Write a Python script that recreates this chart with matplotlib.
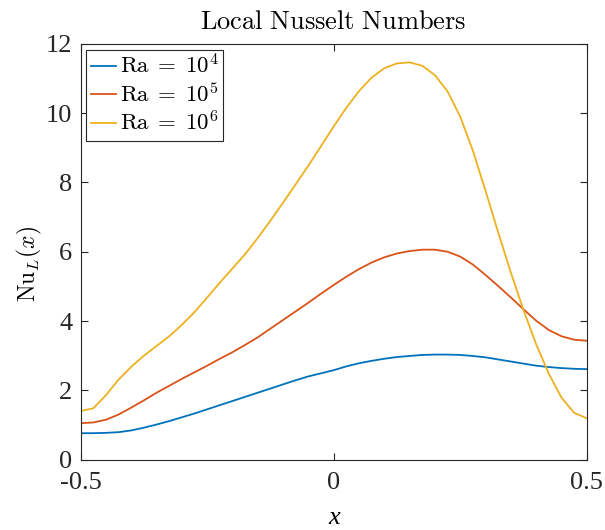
import matplotlib
matplotlib.use("Agg")
import matplotlib.pyplot as plt
from matplotlib import font_manager

# values
x = [-0.5, -0.475, -0.45, -0.425, -0.4, -0.375, -0.35, -0.325, -0.3, -0.275,
     -0.25, -0.225, -0.2, -0.175, -0.15, -0.125, -0.1, -0.075, -0.05, -0.025,
     0.0, 0.025, 0.05, 0.075, 0.1, 0.125, 0.15, 0.175, 0.2, 0.225,
     0.25, 0.275, 0.3, 0.325, 0.35, 0.375, 0.4, 0.425, 0.45, 0.475, 0.5]

nu_ra4 = [0.76, 0.76, 0.77, 0.79, 0.84, 0.92, 1.01, 1.11, 1.22, 1.33,
          1.45, 1.57, 1.69, 1.81, 1.93, 2.05, 2.17, 2.29, 2.40, 2.49,
          2.58, 2.69, 2.78, 2.85, 2.91, 2.96, 2.99, 3.02, 3.03, 3.03,
          3.02, 2.99, 2.95, 2.89, 2.83, 2.77, 2.71, 2.67, 2.64, 2.62, 2.61]

nu_ra5 = [1.05, 1.07, 1.15, 1.30, 1.50, 1.71, 1.93, 2.13, 2.33, 2.52,
          2.71, 2.91, 3.10, 3.31, 3.53, 3.78, 4.03, 4.28, 4.53, 4.79,
          5.04, 5.28, 5.50, 5.69, 5.84, 5.95, 6.02, 6.06, 6.06, 6.00,
          5.86, 5.63, 5.33, 5.01, 4.68, 4.34, 4.01, 3.74, 3.56, 3.46, 3.43]

nu_ra6 = [1.40, 1.48, 1.86, 2.31, 2.68, 3.00, 3.28, 3.56, 3.89, 4.26,
          4.68, 5.11, 5.52, 5.93, 6.40, 6.90, 7.42, 7.95, 8.49, 9.05,
          9.62, 10.16, 10.64, 11.03, 11.30, 11.44, 11.47, 11.37, 11.10, 10.63,
          9.90, 8.92, 7.76, 6.56, 5.40, 4.32, 3.33, 2.48, 1.79, 1.35, 1.19]

labels = [r"$\mathrm{Ra}\;=\;10^4$", r"$\mathrm{Ra}\;=\;10^5$", r"$\mathrm{Ra}\;=\;10^6$"]
colors = ["#0072BD", "#D95319", "#EDB120"]

# make sure the Times-like face is really there
font_manager.findfont("Liberation Serif", fallback_to_default=False)
plt.rcParams["font.family"] = "serif"
plt.rcParams["font.serif"] = ["Liberation Serif", "DejaVu Serif"]
plt.rcParams["mathtext.fontset"] = "cm"

fig = plt.figure(figsize=(6.05, 5.3), dpi=100)
ax = fig.add_axes([0.1334, 0.133, 0.8364, 0.784])

for y, lab, c in zip([nu_ra4, nu_ra5, nu_ra6], labels, colors):
    ax.plot(x, y, color=c, linewidth=1.3, label=lab)

ax.set_xlim(-0.5, 0.5)
ax.set_ylim(0, 12)
ax.set_xticks([-0.5, 0, 0.5])
ax.set_xticklabels(["-0.5", "0", "0.5"])
ax.set_yticks(range(0, 13, 2))
ax.tick_params(direction="in", top=True, right=True, labelsize=19,
               length=5, width=0.8, colors="#262626")
ax.tick_params(axis="x", pad=9)
ax.tick_params(axis="y", pad=6)
for s in ax.spines.values():
    s.set_color("#262626")
    s.set_linewidth(0.8)

ax.set_title(r"$\mathrm{Local\ Nusselt\ Numbers}$", fontsize=19, pad=11)
ax.set_xlabel("x", fontsize=19, style="italic")
ax.xaxis.set_label_coords(0.5, -0.115)
ax.set_ylabel(r"$\mathrm{Nu}_L(x)$", fontsize=17)
ax.yaxis.set_label_coords(-0.073, 0.47)

leg = ax.legend(loc="upper left", fontsize=16.5, handlelength=1.1, handletextpad=0.15,
                borderpad=0.2, labelspacing=0.2, borderaxespad=0.25,
                fancybox=False, framealpha=1, edgecolor="#262626")
leg.get_frame().set_linewidth(0.8)

fig.savefig("out.png", dpi=100)
